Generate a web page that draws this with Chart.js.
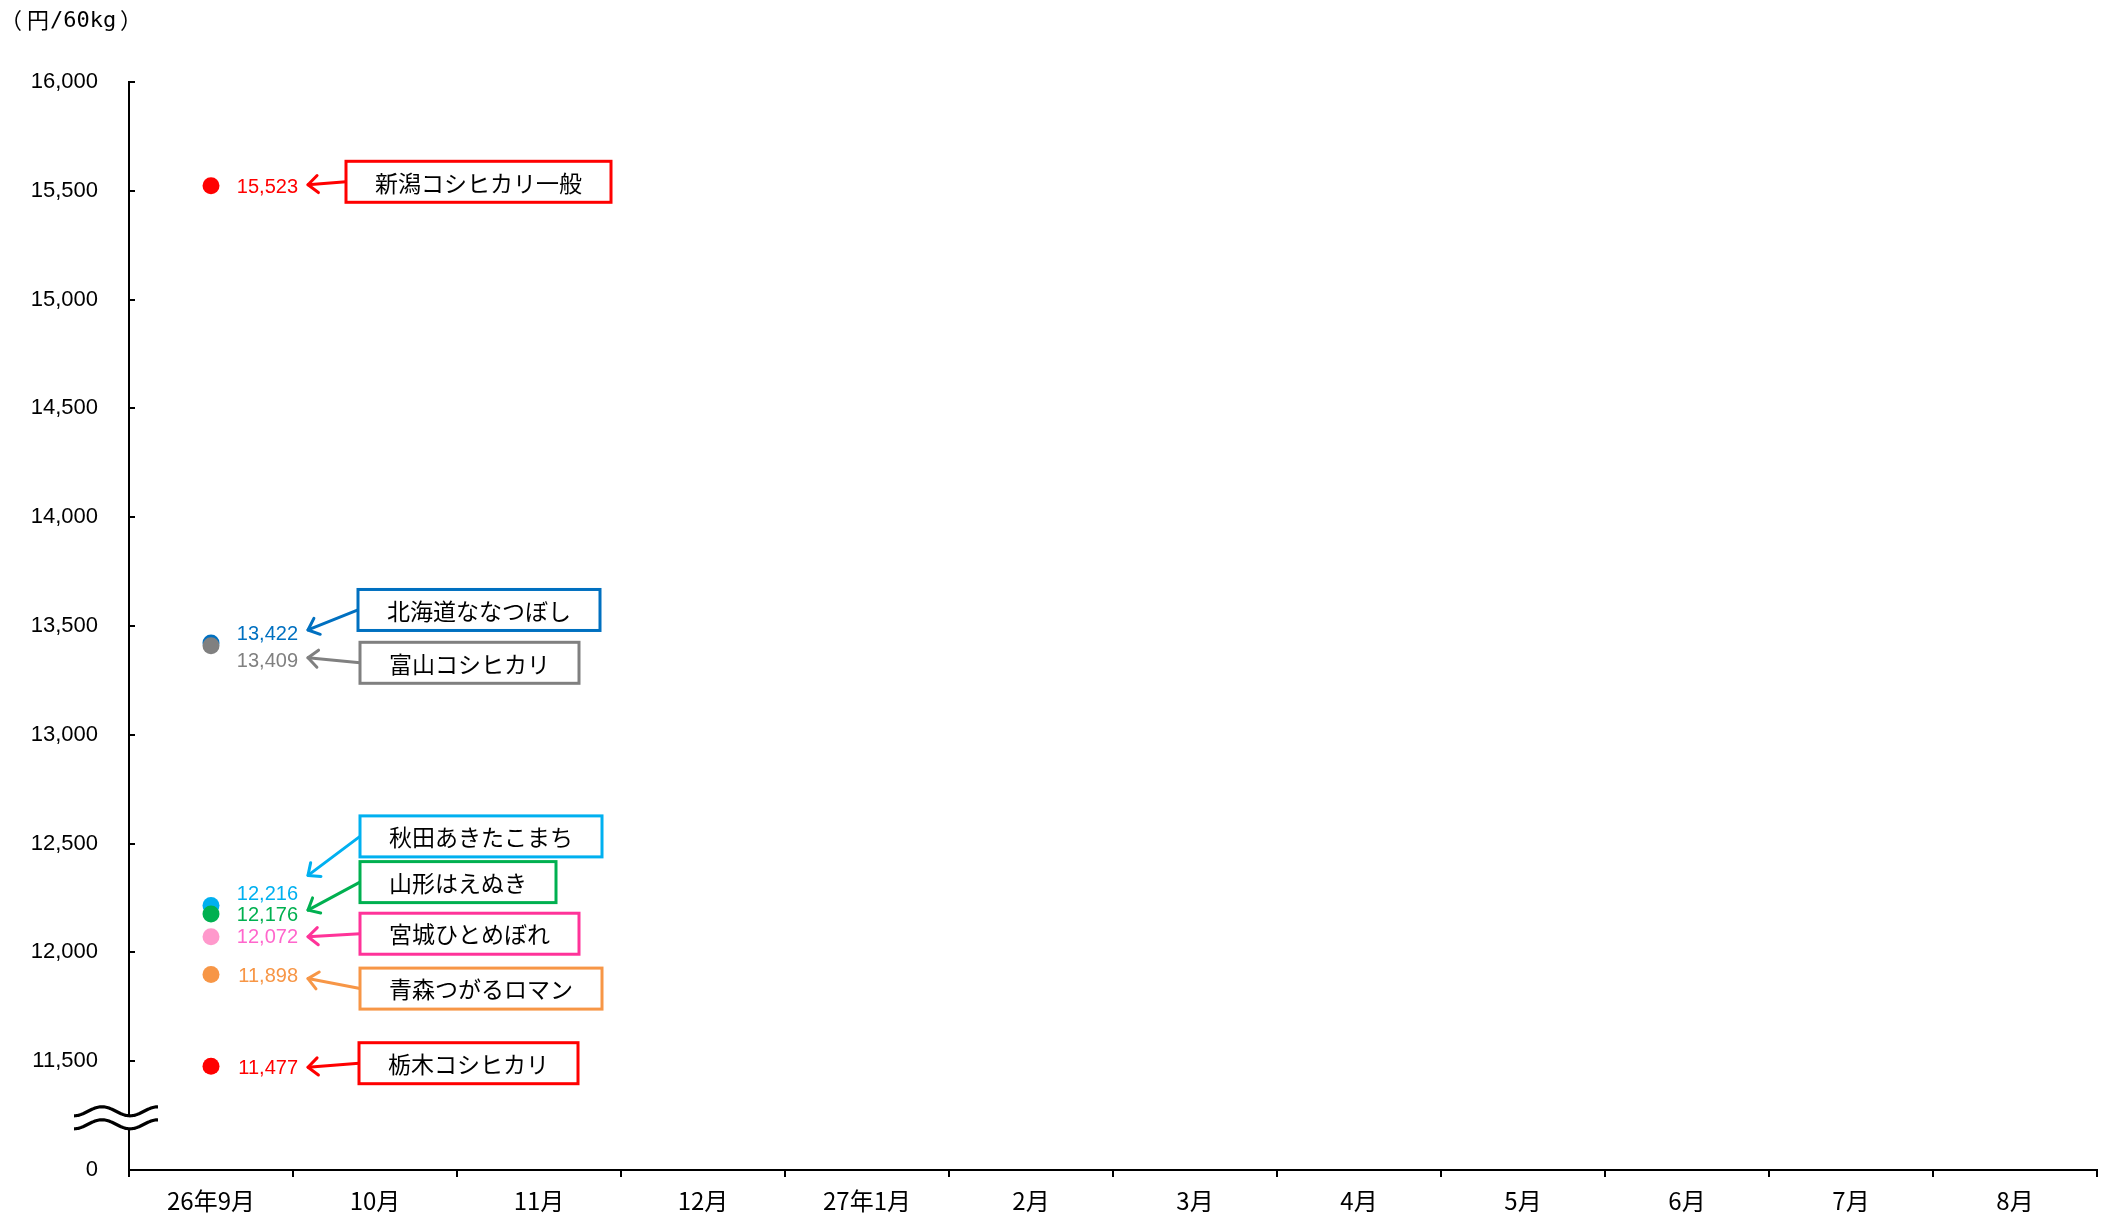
<!DOCTYPE html>
<html lang="ja">
<head>
<meta charset="utf-8">
<title>産地品種別 相対取引価格</title>
<script src="https://cdn.jsdelivr.net/npm/chart.js@4.4.1/dist/chart.umd.min.js"></script>
<style>
  html, body { margin: 0; padding: 0; background: #fff; }
  #wrap { position: relative; width: 2111px; height: 1218px; }
</style>
</head>
<body>
<div id="wrap"><canvas id="c"></canvas></div>
<script>
// Months along the horizontal axis
const months = ['26年9月', '10月', '11月', '12月', '27年1月', '2月', '3月', '4月', '5月', '6月', '7月', '8月'];

// Rice varieties and their prices (円/60kg) for 26年9月
const varieties = ['新潟コシヒカリ一般', '北海道ななつぼし', '富山コシヒカリ', '秋田あきたこまち',
                   '山形はえぬき', '宮城ひとめぼれ', '青森つがるロマン', '栃木コシヒカリ'];
const prices = [15523, 13422, 13409, 12216, 12176, 12072, 11898, 11477];

// Value axis: 11,000 is shown as "0" below the axis break
const yMin = 11000;
const yMax = 16000;
const yStep = 500;
const breakValue = 11240;

// Colours per variety
const markerColors = ['#FF0000', '#0070C0', '#808080', '#00B0F0', '#00B050', '#FF99CC', '#F79646', '#FF0000'];
const labelColors  = ['#FF0000', '#0070C0', '#808080', '#00B0F0', '#00B050', '#FF66CC', '#F79646', '#FF0000'];
const boxColors    = ['#FF0000', '#0070C0', '#808080', '#00B0F0', '#00B050', '#FF3399', '#F79646', '#FF0000'];

// Offsets (px) relative to each marker: value labels, callout boxes and arrow tips
const labelNudge = [2, -8, 16, -11, 1, 1, 2, 2];
const boxShiftX  = [135, 147, 149, 149, 149, 149, 149, 148];
const boxNudge   = [-4, -33, 17, -69, -32, -3, 14, -3];
const tipNudge   = [-1, -13, 12, -30, -4, 0, 4, 1];

const CJK = '"Noto Sans CJK JP", "Noto Sans", sans-serif';
const LAT = '"Liberation Sans", Arial, sans-serif';
const MONO = '"DejaVu Sans Mono", "Liberation Mono", monospace';

function fmt(v) { return v.toLocaleString('en-US'); }

function drawArrow(ctx, x0, y0, x1, y1, color) {
  ctx.save();
  ctx.strokeStyle = color;
  ctx.lineWidth = 3;
  ctx.lineCap = 'round';
  ctx.lineJoin = 'round';
  ctx.beginPath();
  ctx.moveTo(x0, y0);
  ctx.lineTo(x1, y1);
  ctx.stroke();
  const ang = Math.atan2(y1 - y0, x1 - x0);
  const len = 13, spread = 0.72;
  ctx.beginPath();
  ctx.moveTo(x1 - len * Math.cos(ang - spread), y1 - len * Math.sin(ang - spread));
  ctx.lineTo(x1, y1);
  ctx.lineTo(x1 - len * Math.cos(ang + spread), y1 - len * Math.sin(ang + spread));
  ctx.stroke();
  ctx.restore();
}

// Value labels, callout boxes and arrows next to each point
const calloutPlugin = {
  id: 'callouts',
  afterDatasetsDraw(chart) {
    const ctx = chart.ctx;
    ctx.save();
    prices.forEach((p, i) => {
      const pt = chart.getDatasetMeta(i).data[0];
      if (!pt) return;
      const x = pt.x, y = pt.y;

      ctx.font = '20px ' + LAT;
      ctx.fillStyle = labelColors[i];
      ctx.textAlign = 'right';
      ctx.textBaseline = 'middle';
      ctx.fillText(fmt(p), x + 87, y + labelNudge[i]);

      ctx.font = '23px ' + CJK;
      const tw = ctx.measureText(varieties[i]).width;
      const bw = tw + 58, bh = 41;
      const bx = x + boxShiftX[i], by = y + boxNudge[i];
      drawArrow(ctx, bx, by, x + 97, y + tipNudge[i], boxColors[i]);
      ctx.fillStyle = '#fff';
      ctx.fillRect(bx, by - bh / 2, bw, bh);
      ctx.strokeStyle = boxColors[i];
      ctx.lineWidth = 3;
      ctx.strokeRect(bx, by - bh / 2, bw, bh);
      ctx.fillStyle = '#000';
      ctx.textAlign = 'center';
      ctx.fillText(varieties[i], bx + bw / 2, by + 1);
    });
    ctx.restore();
  },
  afterDraw(chart) {
    const ctx = chart.ctx;
    const ys = chart.scales.y;
    const left = chart.chartArea.left;
    ctx.save();

    // inward tick marks on the value axis
    ctx.strokeStyle = '#000';
    ctx.lineWidth = 2;
    ys.ticks.forEach(t => {
      if (t.value === yMin) return;
      const py = Math.round(ys.getPixelForValue(t.value));
      ctx.beginPath();
      ctx.moveTo(left, py);
      ctx.lineTo(left + 6, py);
      ctx.stroke();
    });

    // axis break symbol
    const cy = ys.getPixelForValue(breakValue);
    const x0 = left - 55, x1 = left + 29;
    const gap = 13, amp = 4.5, period = 56;
    const wave = (x, off) => cy + off + amp * Math.cos(2 * Math.PI * (x - x0) / period);
    ctx.fillStyle = '#fff';
    ctx.beginPath();
    for (let x = x0; x <= x1; x += 1) ctx.lineTo(x, wave(x, -gap / 2));
    for (let x = x1; x >= x0; x -= 1) ctx.lineTo(x, wave(x, gap / 2));
    ctx.closePath();
    ctx.fill();
    ctx.strokeStyle = '#000';
    ctx.lineWidth = 3.2;
    [-gap / 2, gap / 2].forEach(off => {
      ctx.beginPath();
      for (let x = x0; x <= x1; x += 1) {
        const yy = wave(x, off);
        if (x === x0) ctx.moveTo(x, yy); else ctx.lineTo(x, yy);
      }
      ctx.stroke();
    });

    // unit label （円/60kg）
    ctx.fillStyle = '#000';
    ctx.textAlign = 'left';
    ctx.textBaseline = 'middle';
    ctx.font = '22px ' + CJK;
    ctx.fillText('（', 0, 20);
    ctx.fillText('円', 27, 20);
    ctx.font = '22px ' + MONO;
    ctx.fillText('/60kg', 50, 21);
    ctx.font = '22px ' + CJK;
    ctx.fillText('）', 120, 20);
    ctx.restore();
  }
};

const datasets = varieties.map((name, i) => ({
  label: name,
  data: [prices[i]],
  showLine: false,
  pointRadius: 8.5,
  pointHoverRadius: 8.5,
  pointBackgroundColor: markerColors[i],
  pointBorderColor: markerColors[i],
  pointBorderWidth: 0,
  order: -i
}));

new Chart(document.getElementById('c'), {
  type: 'line',
  data: { labels: months, datasets },
  options: {
    responsive: true,
    maintainAspectRatio: false,
    animation: false,
    events: [],
    layout: { padding: { top: 82, right: 14, bottom: 0, left: 0 } },
    plugins: { legend: { display: false }, tooltip: { enabled: false } },
    scales: {
      x: {
        type: 'category',
        offset: true,
        grid: { offset: true, drawOnChartArea: false, drawTicks: true, tickLength: 7, color: '#000', lineWidth: 2 },
        border: { display: true, color: '#000', width: 2 },
        ticks: { color: '#000', font: { family: CJK, size: 24 }, padding: 9, maxRotation: 0, autoSkip: false },
        afterFit(s) { s.height = 48; }
      },
      y: {
        min: yMin,
        max: yMax,
        grid: { drawOnChartArea: false, drawTicks: false },
        border: { display: true, color: '#000', width: 2 },
        ticks: {
          stepSize: yStep,
          color: '#000',
          font: { family: LAT, size: 22 },
          padding: 31,
          callback: v => (v === yMin ? '0' : fmt(v))
        },
        afterFit(s) { s.width = 129; }
      }
    }
  },
  plugins: [calloutPlugin]
});
</script>
</body>
</html>
